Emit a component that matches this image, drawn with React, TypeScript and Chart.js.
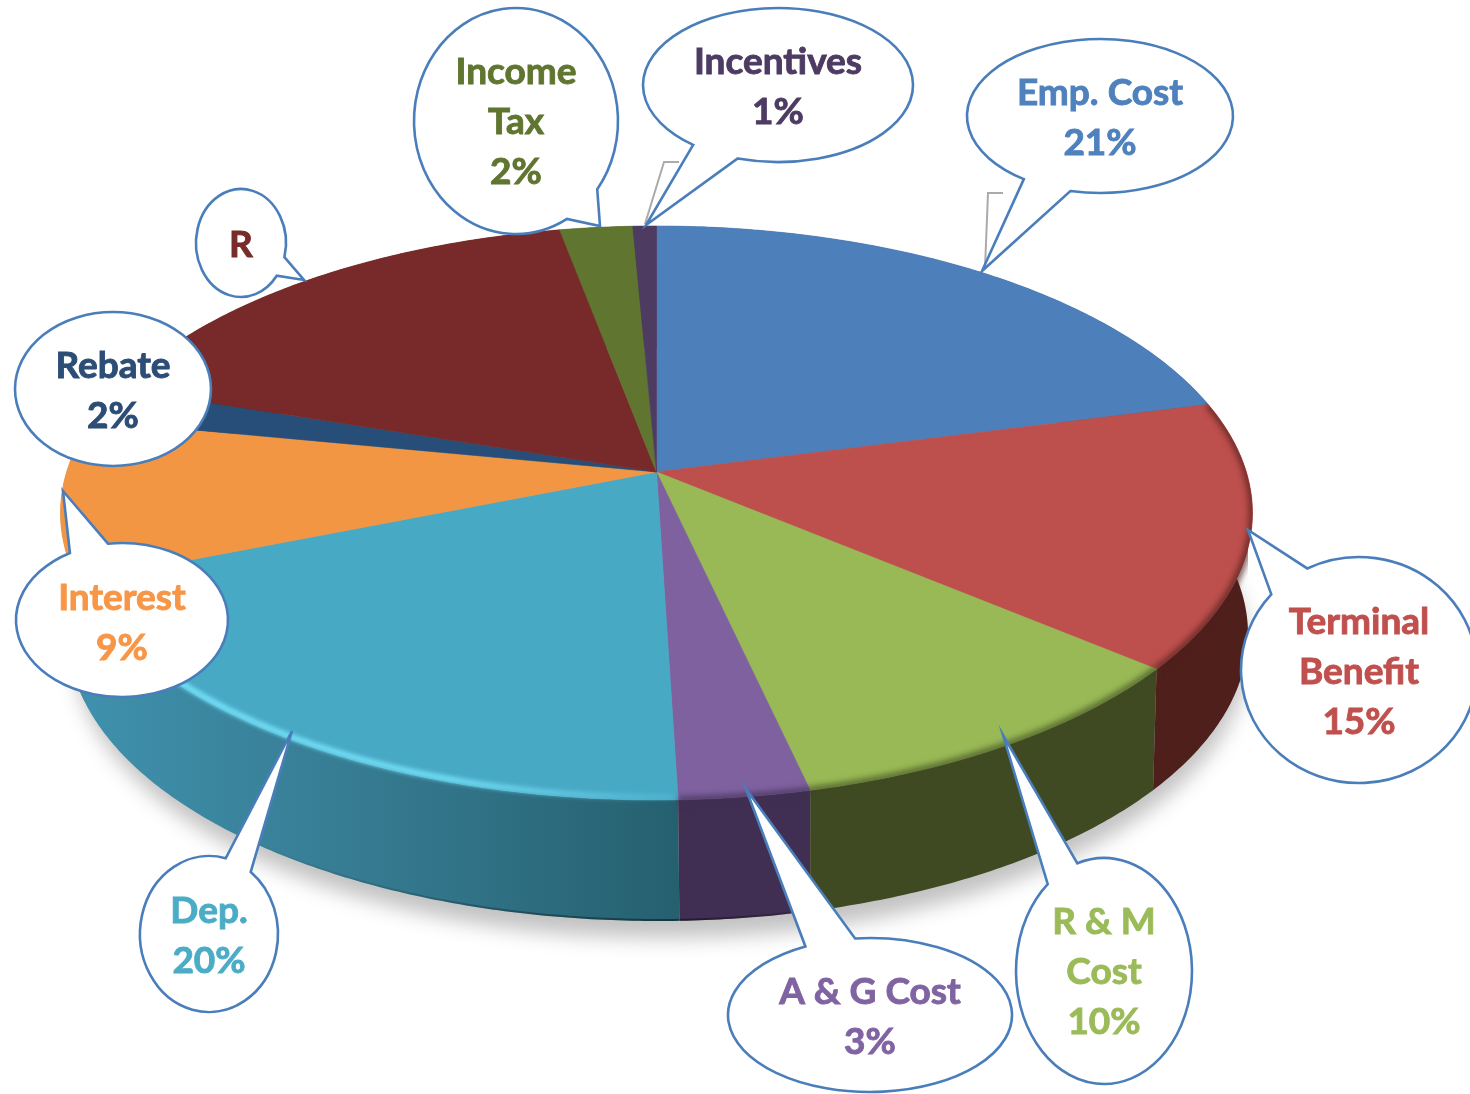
import React, { useEffect, useRef } from "react";
import { Chart, registerables } from "chart.js";

Chart.register(...registerables);

// ---- data ----
const categories = ["Emp. Cost", "Terminal Benefit", "R & M Cost", "A & G Cost", "Dep.", "Interest", "Rebate", "R", "Income Tax", "Incentives"];
const sliceValues = [21, 15, 10.4, 3.1, 19.5, 9, 2, 17, 2.27, 0.73];
const percentLabels = ["21%", "15%", "10%", "3%", "20%", "9%", "2%", "", "2%", "1%"];
const labelLines = [["Emp. Cost"], ["Terminal", "Benefit"], ["R & M", "Cost"], ["A & G Cost"], ["Dep."], ["Interest"], ["Rebate"], ["R"], ["Income", "Tax"], ["Incentives"]];
const topColors = ["#4d7fbb", "#bd4f4c", "#98b955", "#7f61a0", "#48a9c5", "#f39644", "#274e78", "#772a29", "#5f7530", "#4d3b62"];
const sideColors = ["#2f4d71", "#4f1f1c", "#3f4a22", "#402f52", "#34778e", "#b8702f", "#1a2e46", "#471a19", "#39461c", "#2e233a"];
const textColors = ["#4f81bd", "#c0504d", "#9bbb59", "#8064a2", "#4bacc6", "#f79646", "#2c4d75", "#772c2a", "#5f7530", "#4d3b62"];
// slices whose rim faces the viewer get the soft bevel shade
const shadedRim = [false, true, true, true, false, false, false, false, false, false];

// ---- layout ----
const TOP = { cx: 656.5, cy: 513, rx: 596, ry: 287 };
const BOT = { cx: 658, cy: 634, rx: 590, ry: 287 };
const V0 = -0.143;
const FONT = 'bold 37px Lato, "Open Sans", sans-serif';
const LINE_H = 50;
const STROKE = "#4a7ebb";
const DEP_WALL_EXTRA = 0.1;

type Bubble = { cx: number; cy: number; rx: number; ry: number; a?: number[]; b?: number[]; tip?: number[]; textY: number };
const bubbles: Bubble[] = [
  { cx: 1100, cy: 116, rx: 133, ry: 77, a: [1024, 179], b: [1070, 192], tip: [982, 271], textY: 93.5 },
  { cx: 1359, cy: 670, rx: 118, ry: 113, a: [1272, 595], b: [1307, 568], tip: [1248, 530], textY: 622.5 },
  { cx: 1104, cy: 971, rx: 88, ry: 113, a: [1047, 883], b: [1077, 862], tip: [1003, 735], textY: 922.5 },
  { cx: 870, cy: 1015, rx: 142, ry: 77, a: [805, 946], b: [855, 938], tip: [746, 789], textY: 992.5 },
  { cx: 209, cy: 934, rx: 69, ry: 78, a: [226, 857], b: [250, 873], tip: [292, 731], textY: 911.5 },
  { cx: 122, cy: 620, rx: 106, ry: 77, a: [70, 553], b: [108, 544], tip: [63, 491], textY: 598.5 },
  { cx: 113, cy: 389, rx: 98, ry: 77, textY: 366.5 },
  { cx: 241, cy: 243, rx: 45, ry: 54, a: [284, 257], b: [277, 276], tip: [304, 280], textY: 245.5 },
  { cx: 516, cy: 121, rx: 102, ry: 113, a: [598, 190], b: [566, 217], tip: [600, 226], textY: 72.5 },
  { cx: 778, cy: 85, rx: 135, ry: 77, a: [693, 145], b: [738, 158], tip: [646, 225], textY: 62.5 },
];
const leaders = [
  [[1003, 193], [988, 193], [985, 268]],
  [[679, 162], [664, 162], [645, 224]],
];

function project(theta: number, e: typeof TOP) {
  const u = Math.cos(theta);
  const v = Math.sin(theta);
  const d = 1 + v * V0;
  return [e.cx + (e.rx * u * Math.sqrt(1 - V0 * V0)) / d, e.cy + (e.ry * (v + V0)) / d];
}

function edge(start: number, end: number, e: typeof TOP) {
  const n = Math.max(2, Math.ceil((end - start) / 0.01));
  const pts: number[][] = [];
  for (let i = 0; i <= n; i++) pts.push(project(start + ((end - start) * i) / n, e));
  return pts;
}

function trace(ctx: CanvasRenderingContext2D, pts: number[][], move = true) {
  pts.forEach((p, i) => (i === 0 && move ? ctx.moveTo(p[0], p[1]) : ctx.lineTo(p[0], p[1])));
}

const pie3d = {
  id: "pie3d",
  beforeDatasetsDraw(chart: any) {
    const ctx: CanvasRenderingContext2D = chart.ctx;
    const arcs = chart.getDatasetMeta(0).data;

    // soft ground shadow
    ctx.save();
    ctx.filter = "blur(10px)";
    ctx.fillStyle = "rgba(0,0,0,0.24)";
    ctx.beginPath();
    ctx.ellipse(BOT.cx + 3, BOT.cy + 17, BOT.rx - 3, BOT.ry, 0, 0, Math.PI * 2);
    ctx.fill();
    ctx.restore();

    // slice walls, as one path of quads between the two rims
    for (let i = arcs.length - 1; i >= 0; i--) {
      const arc = arcs[i];
      const wallEnd = arc.endAngle + (i === 4 ? DEP_WALL_EXTRA : 0);
      const topPts = edge(arc.startAngle, wallEnd, TOP);
      const botPts = edge(arc.startAngle, wallEnd, BOT);
      ctx.beginPath();
      for (let k = 0; k < topPts.length - 1; k++) {
        ctx.moveTo(topPts[k][0], topPts[k][1]);
        ctx.lineTo(topPts[k + 1][0], topPts[k + 1][1]);
        ctx.lineTo(botPts[k + 1][0], botPts[k + 1][1]);
        ctx.lineTo(botPts[k][0], botPts[k][1]);
        ctx.closePath();
      }
      if (i === 4) {
        const g = ctx.createLinearGradient(90, 0, 680, 0);
        g.addColorStop(0, "#3f90ac");
        g.addColorStop(0.5, "#35798f");
        g.addColorStop(1, "#25606f");
        ctx.fillStyle = g;
      } else {
        ctx.fillStyle = sideColors[i];
      }
      ctx.fill();
      // dark foot of the wall, strongest near the front
      ctx.save();
      ctx.clip();
      const foot = ctx.createLinearGradient(250, 0, 850, 0);
      foot.addColorStop(0, "rgba(0,0,0,0)");
      foot.addColorStop(0.72, "rgba(0,0,0,0.45)");
      foot.addColorStop(1, "rgba(0,0,0,0)");
      ctx.strokeStyle = foot;
      ctx.lineWidth = 4;
      ctx.beginPath();
      trace(ctx, botPts);
      ctx.stroke();
      ctx.restore();
    }

    // top faces are drawn by the arc elements, in perspective
    arcs.forEach((arc: any, i: number) => {
      arc.draw = (c: CanvasRenderingContext2D) => {
        const centre = [TOP.cx, TOP.cy + TOP.ry * V0];
        c.save();
        c.beginPath();
        c.moveTo(centre[0], centre[1]);
        trace(c, edge(arc.startAngle, arc.endAngle, TOP), false);
        c.closePath();
        c.fillStyle = topColors[i];
        c.fill();
        c.strokeStyle = topColors[i];
        c.lineWidth = 0.6;
        c.stroke();
        c.restore();
      };
    });
  },
  afterDatasetsDraw(chart: any) {
    const ctx: CanvasRenderingContext2D = chart.ctx;
    const arcs = chart.getDatasetMeta(0).data;

    // bevel along the rim, kept inside the solid's outline
    arcs.forEach((arc: any, i: number) => {
      const rim = edge(arc.startAngle, arc.endAngle, TOP);
      ctx.save();
      ctx.beginPath();
      ctx.ellipse(TOP.cx, TOP.cy, TOP.rx, TOP.ry, 0, 0, Math.PI * 2);
      ctx.closePath();
      ctx.ellipse(BOT.cx, BOT.cy, BOT.rx, BOT.ry, 0, 0, Math.PI * 2);
      ctx.closePath();
      ctx.rect(BOT.cx - BOT.rx, TOP.cy, BOT.rx * 2, BOT.cy - TOP.cy);
      ctx.clip();
      if (i === 4) {
        ctx.filter = "blur(2px)";
        const g = ctx.createLinearGradient(150, 0, 680, 0);
        g.addColorStop(0, "rgba(118,226,250,0.95)");
        g.addColorStop(0.55, "rgba(118,226,250,0.9)");
        g.addColorStop(1, "rgba(118,226,250,0.12)");
        ctx.strokeStyle = g;
        ctx.lineWidth = 6;
        ctx.beginPath();
        trace(ctx, rim.map((p) => [p[0], p[1] - 3]));
        ctx.stroke();
      } else if (shadedRim[i]) {
        ctx.filter = "blur(3px)";
        ctx.strokeStyle = sideColors[i];
        ctx.globalAlpha = 0.85;
        ctx.lineWidth = 6;
        ctx.beginPath();
        trace(ctx, rim);
        ctx.stroke();
      }
      ctx.restore();
    });

    // grey leader lines
    ctx.save();
    ctx.strokeStyle = "#ababab";
    ctx.lineWidth = 2;
    leaders.forEach((l) => {
      ctx.beginPath();
      trace(ctx, l);
      ctx.stroke();
    });
    ctx.restore();

    // callouts
    bubbles.forEach((b, i) => {
      ctx.save();
      ctx.beginPath();
      if (b.a && b.b && b.tip) {
        const a1 = Math.atan2((b.a[1] - b.cy) / b.ry, (b.a[0] - b.cx) / b.rx);
        const a2 = Math.atan2((b.b[1] - b.cy) / b.ry, (b.b[0] - b.cx) / b.rx);
        const d = ((a2 - a1) % (Math.PI * 2) + Math.PI * 2) % (Math.PI * 2);
        ctx.ellipse(b.cx, b.cy, b.rx, b.ry, 0, a1, a2, d < Math.PI);
        ctx.lineTo(b.tip[0], b.tip[1]);
        ctx.closePath();
      } else {
        ctx.ellipse(b.cx, b.cy, b.rx, b.ry, 0, 0, Math.PI * 2);
      }
      ctx.fillStyle = "#ffffff";
      ctx.fill();
      ctx.strokeStyle = STROKE;
      ctx.lineWidth = 2.6;
      ctx.lineJoin = "miter";
      ctx.stroke();

      ctx.fillStyle = textColors[i];
      ctx.strokeStyle = textColors[i];
      ctx.lineWidth = 0.9;
      ctx.font = FONT;
      ctx.textAlign = "center";
      ctx.textBaseline = "middle";
      const lines = percentLabels[i] ? [...labelLines[i], percentLabels[i]] : labelLines[i];
      lines.forEach((t, k) => {
        ctx.fillText(t, b.cx, b.textY + k * LINE_H);
        ctx.strokeText(t, b.cx, b.textY + k * LINE_H);
      });
      ctx.restore();
    });
  },
};

export default function App() {
  const ref = useRef<HTMLCanvasElement>(null);
  useEffect(() => {
    document.body.style.margin = "0";
    document.body.style.background = "#ffffff";
    const chart = new Chart(ref.current!, {
      type: "pie",
      data: {
        labels: categories,
        datasets: [{ data: sliceValues, backgroundColor: topColors, borderWidth: 0 }],
      },
      options: {
        responsive: false,
        animation: false,
        devicePixelRatio: 1,
        plugins: { legend: { display: false }, tooltip: { enabled: false } },
      },
      plugins: [pie3d],
    } as any);
    return () => chart.destroy();
  }, []);
  return <canvas ref={ref} width={1470} height={1094} style={{ display: "block", width: 1470, height: 1094 }} />;
}
